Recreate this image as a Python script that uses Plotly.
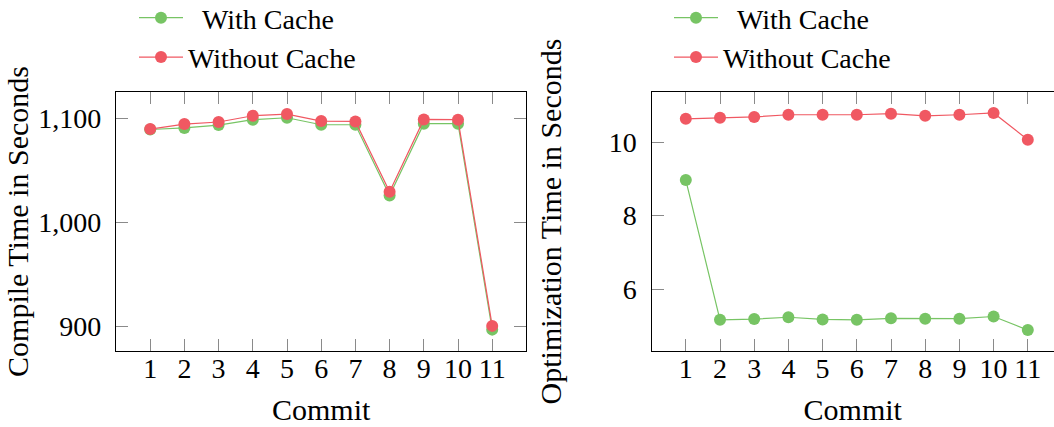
import plotly.graph_objects as go

commits = [1, 2, 3, 4, 5, 6, 7, 8, 9, 10, 11]

compile_with_cache = [1089, 1090.5, 1093.3, 1098.4, 1100.3, 1093.6, 1093.6, 1025.8, 1094.6, 1094.6, 897]
compile_without_cache = [1089.4, 1094.2, 1096.2, 1102.2, 1103.8, 1097.1, 1096.8, 1029.3, 1098.7, 1098.4, 900.6]

opt_with_cache = [8.97, 5.16, 5.18, 5.23, 5.17, 5.16, 5.2, 5.19, 5.19, 5.25, 4.88]
opt_without_cache = [10.64, 10.67, 10.69, 10.75, 10.75, 10.75, 10.78, 10.72, 10.75, 10.8, 10.07]

compile_ticks = [900, 1000, 1100]
opt_ticks = [6, 8, 10]

series_names = ["\u00a0\u00a0With Cache", "Without Cache"]

GREEN = "#77C464"
RED = "#F05862"
FONT = "Liberation Serif"

fig = go.Figure()

def add(x, y, name, color, xa, ya, legend):
    fig.add_trace(go.Scatter(
        x=x, y=y, name=name, mode="lines+markers",
        line=dict(color=color, width=1.2),
        marker=dict(color=color, size=12),
        xaxis=xa, yaxis=ya, legend=legend,
    ))

add(commits, compile_with_cache, series_names[0], GREEN, "x", "y", "legend")
add(commits, compile_without_cache, series_names[1], RED, "x", "y", "legend")
add(commits, opt_with_cache, series_names[0], GREEN, "x2", "y2", "legend2")
add(commits, opt_without_cache, series_names[1], RED, "x2", "y2", "legend2")

W, H = 1054, 427

def px_x(p):
    return p / W

def px_y(p):
    return 1 - p / H

axis_common = dict(
    showline=True, linecolor="black", linewidth=1.3,
    ticks="inside", ticklen=12, tickwidth=1.3, tickcolor="#8a8a8a",
    showgrid=False, zeroline=False, automargin=False,
    tickfont=dict(family=FONT, size=28, color="black"),
)

legend_common = dict(
    xanchor="left", yanchor="top", y=1.0164,
    font=dict(family=FONT, size=28, color="black"),
    bgcolor="rgba(0,0,0,0)", itemwidth=44, tracegroupgap=0,
    traceorder="normal",
)

title_font = dict(family=FONT, size=30, color="black")

fig.update_layout(
    width=W, height=H,
    margin=dict(l=0, r=0, t=0, b=0, autoexpand=False),
    paper_bgcolor="white", plot_bgcolor="white",
    font=dict(family=FONT, color="black"),
    showlegend=True,
    xaxis=dict(
        domain=[px_x(116), px_x(526.4)], range=[0, 12],
        tickvals=commits, ticktext=[str(c) for c in commits],
        mirror="ticks", anchor="y", ticklabelstandoff=-8,
        title=dict(text="Commit", font=title_font, standoff=16),
        **axis_common,
    ),
    yaxis=dict(
        domain=[px_y(351), px_y(92)], range=[876.5, 1125],
        tickvals=compile_ticks, tickformat=",",
        mirror="ticks", anchor="x", ticklabelstandoff=8,
        title=dict(text="Compile Time in Seconds", font=title_font, standoff=0),
        **axis_common,
    ),
    xaxis2=dict(
        domain=[px_x(651.6), 1.0], range=[0, (1054 - 651.6) / 34.2],
        tickvals=commits, ticktext=[str(c) for c in commits],
        mirror="ticks", anchor="y2", ticklabelstandoff=-8,
        title=dict(text="Commit", font=title_font, standoff=16),
        **axis_common,
    ),
    yaxis2=dict(
        domain=[px_y(351), px_y(92)], range=[4.31, 11.37],
        tickvals=opt_ticks,
        mirror=False, anchor="x2", ticklabelstandoff=8,
        title=dict(text="Optimization Time in Seconds", font=title_font, standoff=38),
        **axis_common,
    ),
    legend=dict(x=px_x(134), **legend_common),
    legend2=dict(x=px_x(669), **legend_common),
)

fig.write_html("out.html")
